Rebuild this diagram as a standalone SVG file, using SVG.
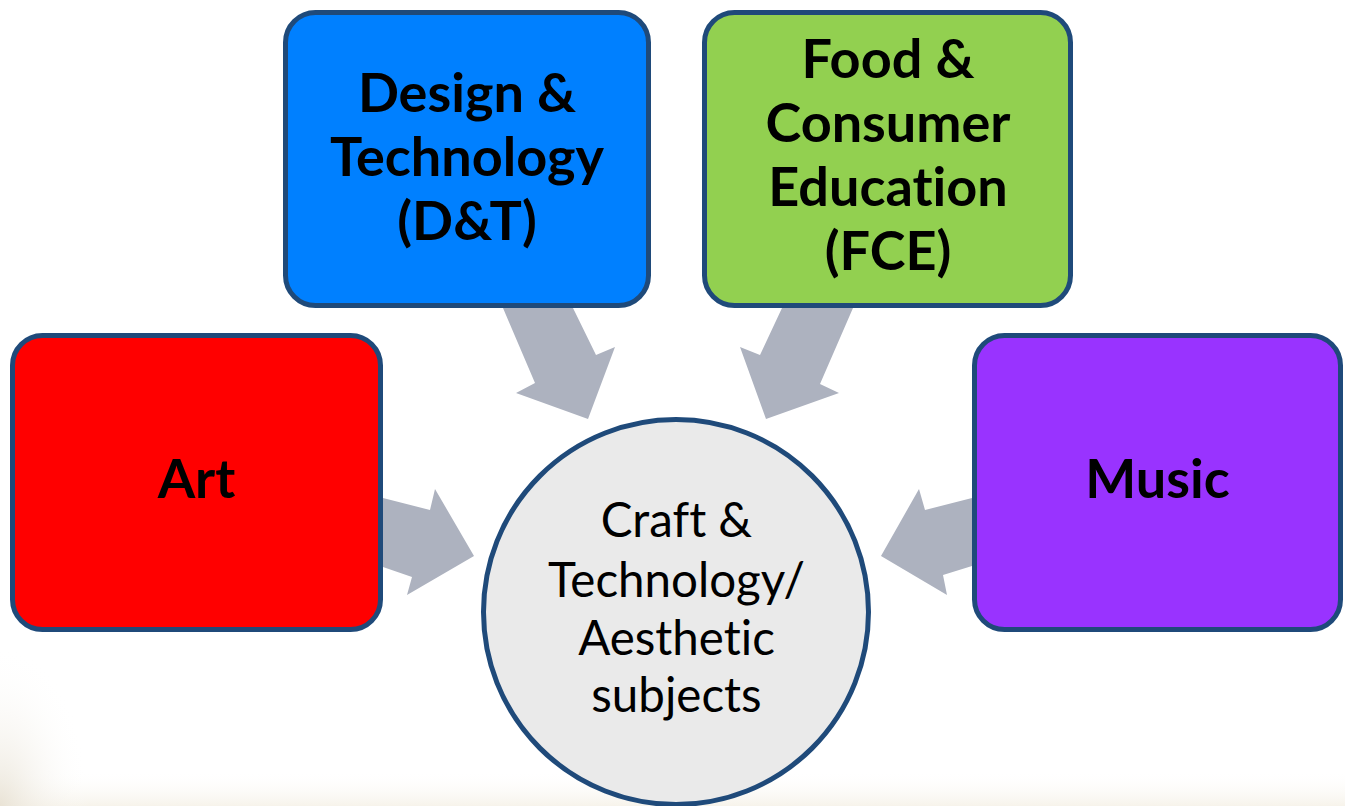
<svg xmlns="http://www.w3.org/2000/svg" width="1345" height="806" viewBox="0 0 1345 806">
  <defs>
    <style>
      .box { stroke: #1F4A7A; stroke-width: 5; }
      .lbl { font-family: Lato, "Liberation Sans", sans-serif; font-weight: bold; font-size: 54px; fill: #000; text-anchor: middle; font-variant-ligatures: none; font-feature-settings: "liga" 0, "clig" 0; }
      .clbl { font-family: Lato, "Liberation Sans", sans-serif; font-size: 47.5px; fill: #000; text-anchor: middle; font-variant-ligatures: none; font-feature-settings: "liga" 0, "clig" 0; }
      .arrow { fill: #ADB2BF; }
    </style>
    <radialGradient id="bgL" cx="0" cy="1" r="1">
      <stop offset="0" stop-color="#E6DFD0" stop-opacity="0.8"/>
      <stop offset="1" stop-color="#FFFFFF" stop-opacity="0"/>
    </radialGradient>
    <linearGradient id="bgB" x1="0" y1="0" x2="0" y2="1">
      <stop offset="0" stop-color="#FFFFFF" stop-opacity="0"/>
      <stop offset="1" stop-color="#F3EEE2" stop-opacity="0.7"/>
    </linearGradient>
  </defs>

  <rect x="0" y="0" width="1345" height="806" fill="#FFFFFF"/>
  <rect x="0" y="770" width="1345" height="36" fill="url(#bgB)"/>
  <rect x="0" y="645" width="90" height="161" fill="url(#bgL)"/>

  <g id="connectors">
    <polygon class="arrow" points="383,498 430,510 435,489 474,556 407,595 412,577 383,567"/>
    <polygon class="arrow" points="503,308 573,308 596,355 615,347 588,419 516,393 535,383"/>
    <polygon class="arrow" points="853,308 782,308 760,355 740,347 766,419 839,393 820,384"/>
    <polygon class="arrow" points="972,498 925,510 919,489 881,556 947,595 943,575 972,566"/>
  </g>

  <g id="node-art">
    <rect class="box" x="12.5" y="335.5" width="368" height="294" rx="30" fill="#FF0000"/>
    <text class="lbl" x="196.5" y="498">Art</text>
  </g>

  <g id="node-dt">
    <rect class="box" x="285.5" y="12.5" width="363" height="293" rx="30" fill="#0080FF"/>
    <text class="lbl" x="467" y="112">Design &amp;</text>
    <text class="lbl" x="467" y="176">Technology</text>
    <text class="lbl" x="467" y="240">(D&amp;T)</text>
  </g>

  <g id="node-fce">
    <rect class="box" x="704.5" y="12.5" width="366" height="293" rx="30" fill="#92D050"/>
    <text class="lbl" x="888" y="78">Food &amp;</text>
    <text class="lbl" x="888" y="142">Consumer</text>
    <text class="lbl" x="888" y="206">Education</text>
    <text class="lbl" x="888" y="270">(FCE)</text>
  </g>

  <g id="node-music">
    <rect class="box" x="974.5" y="335.5" width="366" height="294" rx="30" fill="#9933FF"/>
    <text class="lbl" x="1157.5" y="498">Music</text>
  </g>

  <g id="node-centre">
    <circle class="box" cx="676" cy="612" r="192.5" fill="#EAEAEA"/>
    <text class="clbl" x="676.5" y="537">Craft &amp;</text>
    <text class="clbl" x="676.5" y="597">Technology/</text>
    <text class="clbl" x="676.5" y="655">Aesthetic</text>
    <text class="clbl" x="676.5" y="712">subjects</text>
  </g>
</svg>
